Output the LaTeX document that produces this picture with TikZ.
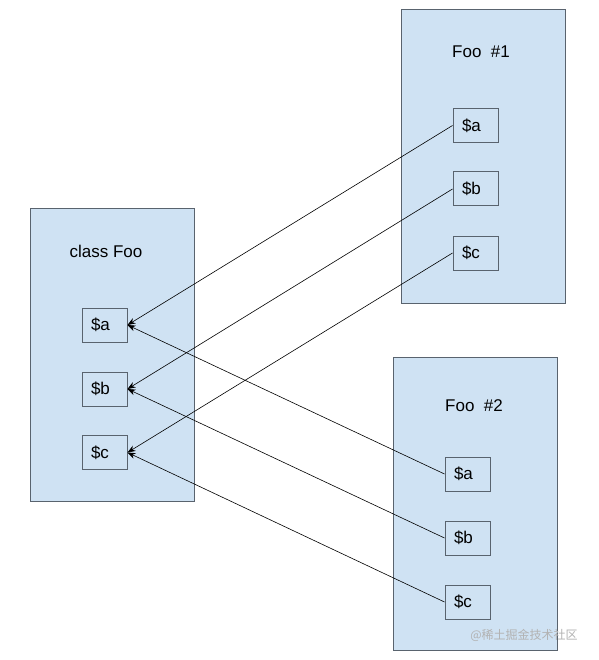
\documentclass[tikz,border=0pt]{standalone}
\usepackage{fontspec}
\setmainfont{Liberation Sans}
\newfontfamily\cjk{Noto Sans CJK SC}
\usetikzlibrary{arrows.meta}
\definecolor{boxblue}{HTML}{CFE2F3}
\definecolor{boxline}{HTML}{59636E}

\begin{document}
\begin{tikzpicture}[x=1pt, y=-1pt,
  objbox/.style={draw=boxline, line width=1pt, fill=boxblue, inner sep=0pt, minimum width=164pt, minimum height=293pt},
  varbox/.style={draw=boxline, line width=1pt, fill=boxblue, inner sep=0pt, minimum width=45pt, minimum height=34pt, text width=27pt, align=left, font=\fontsize{17}{20}\selectfont},
  title/.style={font=\fontsize{17}{20}\selectfont},
  ref/.style={-{Stealth[length=8pt, width=6pt]}, line width=0.6pt}]
\useasboundingbox (0,0) rectangle (598,660);
\fill[white] (0,0) rectangle (598,660);

% class Foo
\node[objbox] (cls) at (112,355) {};
\node[title] (clsname) at (106,251) {class Foo};
\node[varbox] (ca) at (104.5,325) {\$a};
\node[varbox] (cb) at (104.5,389) {\$b};
\node[varbox] (cc) at (104.5,452.5) {\$c};

% Foo #1
\node[objbox] (foo1) at (483,156.5) {};
\node[title] (foo1name) at (481,52) {Foo~~\#1};
\node[varbox] (fa1) at (475.5,125.5) {\$a};
\node[varbox] (fb1) at (475.5,189) {\$b};
\node[varbox] (fc1) at (475.5,253) {\$c};

% Foo #2
\node[objbox] (foo2) at (475,503.5) {};
\node[title] (foo2name) at (474,406) {Foo~~\#2};
\node[varbox] (fa2) at (467.5,474) {\$a};
\node[varbox] (fb2) at (467.5,538) {\$b};
\node[varbox] (fc2) at (467.5,602) {\$c};

\draw[ref] (fa1.west) -- (ca.east);
\draw[ref] (fb1.west) -- (cb.east);
\draw[ref] (fc1.west) -- (cc.east);
\draw[ref] (fa2.west) -- (ca.east);
\draw[ref] (fb2.west) -- (cb.east);
\draw[ref] (fc2.west) -- (cc.east);

\node[text=black!30, font=\cjk\fontsize{12}{14}\selectfont] (mark) at (524,635) {@稀土掘金技术社区};
\end{tikzpicture}
\end{document}
